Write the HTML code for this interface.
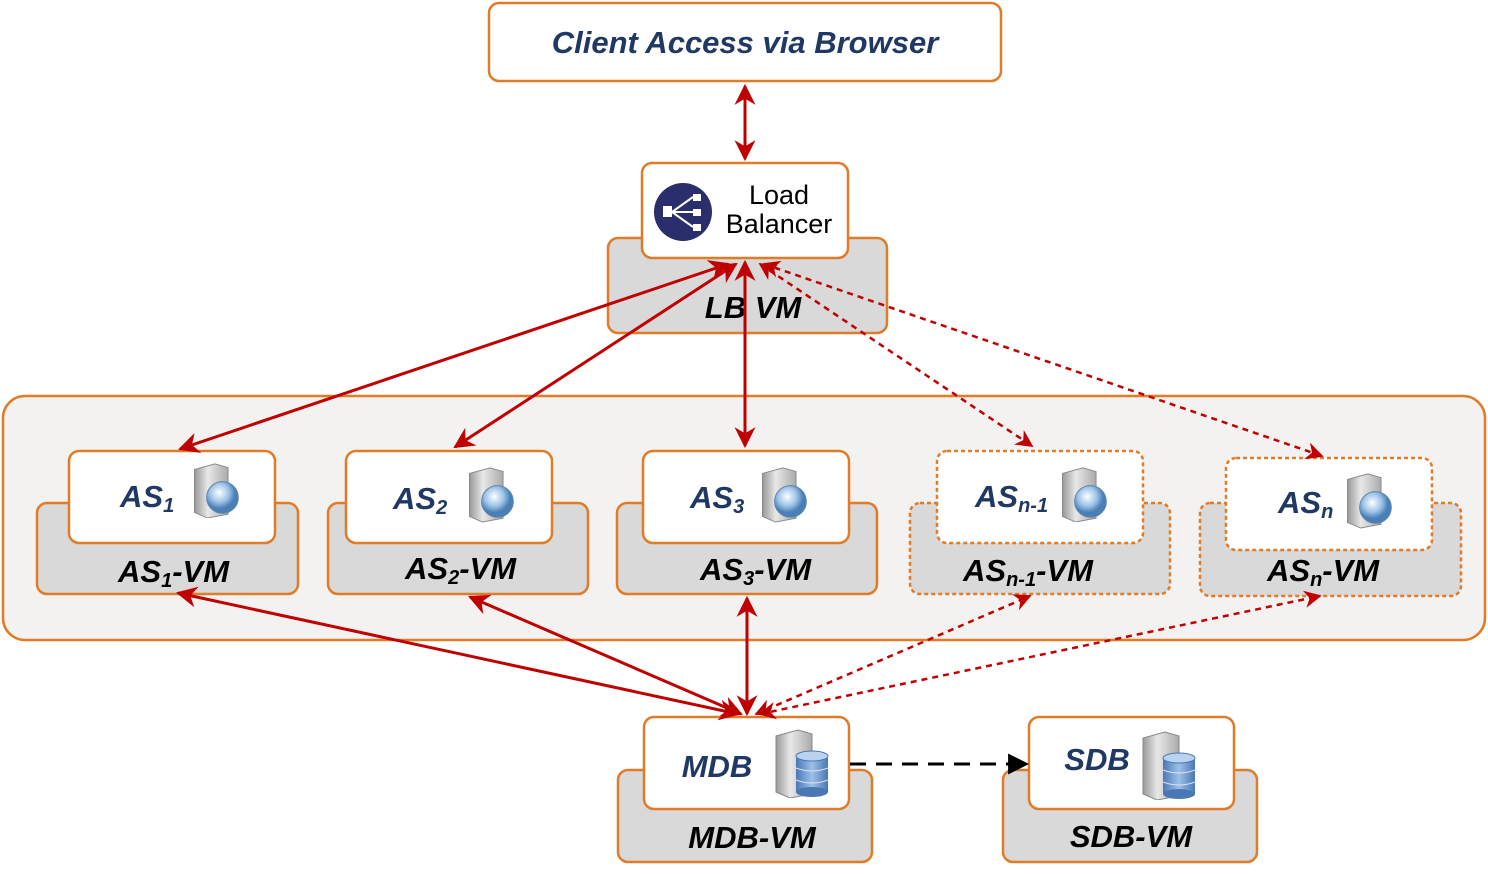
<!DOCTYPE html>
<html><head><meta charset="utf-8"><style>
html,body{margin:0;padding:0;background:#fff;}
svg{display:block;}
text{font-family:"Liberation Sans",sans-serif;font-weight:bold;font-style:italic;}
text.n{font-style:normal;font-weight:normal;}
</style></head><body>
<svg width="1488" height="878" viewBox="0 0 1488 878" xmlns="http://www.w3.org/2000/svg">
<defs>
<marker id="ar" viewBox="0 0 10 10" refX="9" refY="5" markerWidth="7" markerHeight="7" orient="auto-start-reverse"><path d="M0,0 L10,5 L0,10 L3,5 z" fill="#C00000"/></marker>
<marker id="ak" viewBox="0 0 10 10" refX="9" refY="5" markerWidth="7" markerHeight="7" orient="auto"><path d="M0,0 L10,5 L0,10 z" fill="#000"/></marker>
<linearGradient id="srv" x1="0" x2="1"><stop offset="0" stop-color="#999"/><stop offset=".4" stop-color="#e8e8e8"/><stop offset="1" stop-color="#aaa"/></linearGradient>
<radialGradient id="glb" cx=".4" cy=".35"><stop offset="0" stop-color="#fff"/><stop offset=".6" stop-color="#9cc3e8"/><stop offset="1" stop-color="#4a7fb5"/></radialGradient>
<linearGradient id="db" x1="0" x2="1"><stop offset="0" stop-color="#4a78b5"/><stop offset=".5" stop-color="#9cc0e8"/><stop offset="1" stop-color="#4a78b5"/></linearGradient>
<symbol id="web" viewBox="0 0 60 60"><path d="M8,8 L30,2 L44,6 L44,56 L22,60 L8,54 z" fill="url(#srv)" stroke="#888"/><circle cx="38" cy="38" r="17" fill="url(#glb)" stroke="#5d86b0"/></symbol>
<symbol id="dbs" viewBox="0 0 60 70"><path d="M6,8 L28,2 L42,6 L42,66 L20,70 L6,64 z" fill="url(#srv)" stroke="#888"/><rect x="26" y="28" width="32" height="36" fill="url(#db)"/><ellipse cx="42" cy="28" rx="16" ry="5" fill="#b9d3f0" stroke="#4a78b5"/><ellipse cx="42" cy="64" rx="16" ry="5" fill="#4a78b5"/><path d="M26,40 Q42,46 58,40 M26,52 Q42,58 58,52" stroke="#dde" fill="none"/></symbol>
</defs>

<rect x="489" y="3" width="512" height="78" rx="10" fill="#fff" stroke="#E07B28" stroke-width="2.5"/>
<text x="745" y="53" font-size="31" fill="#1F3864" text-anchor="middle">Client Access via Browser</text>
<line x1="745" y1="86" x2="745" y2="159" stroke="#C00000" stroke-width="3" marker-start="url(#ar)" marker-end="url(#ar)"/>

<rect x="608" y="238" width="279" height="95" rx="10" fill="#D9D9D9" stroke="#E07B28" stroke-width="2.5"/>
<rect x="642" y="163" width="206" height="95" rx="10" fill="#fff" stroke="#E07B28" stroke-width="2.5"/>
<circle cx="683" cy="212" r="29" fill="#2A2F6B"/>
<g fill="#fff" stroke="#fff" stroke-width="2"><rect x="663" y="206" width="9" height="11" stroke="none"/><rect x="693" y="194" width="8" height="7" stroke="none"/><rect x="693" y="209" width="8" height="7" stroke="none"/><rect x="693" y="224" width="8" height="7" stroke="none"/><path d="M672,212 L693,197 M672,212 L693,212 M672,212 L693,227" fill="none"/></g>
<text class="n" x="779" y="204" font-size="27" fill="#000" text-anchor="middle">Load</text>
<text class="n" x="779" y="233" font-size="27" fill="#000" text-anchor="middle">Balancer</text>
<text x="753" y="318" font-size="31" fill="#000" text-anchor="middle">LB VM</text>

<rect x="3" y="396" width="1482" height="244" rx="22" fill="#F4F2F0" stroke="#E07B28" stroke-width="2.5"/>

<g stroke="#E07B28" stroke-width="2.5">
<rect x="37" y="503" width="261" height="91" rx="10" fill="#D9D9D9"/>
<rect x="69" y="451" width="206" height="92" rx="10" fill="#fff"/>
<rect x="328" y="503" width="260" height="91" rx="10" fill="#D9D9D9"/>
<rect x="346" y="451" width="206" height="92" rx="10" fill="#fff"/>
<rect x="617" y="503" width="260" height="91" rx="10" fill="#D9D9D9"/>
<rect x="643" y="451" width="206" height="92" rx="10" fill="#fff"/>
<rect x="910" y="503" width="260" height="91" rx="10" fill="#D9D9D9" stroke-dasharray="4,3"/>
<rect x="937" y="451" width="206" height="92" rx="10" fill="#fff" stroke-dasharray="4,3"/>
<rect x="1200" y="503" width="261" height="93" rx="10" fill="#D9D9D9" stroke-dasharray="4,3"/>
<rect x="1226" y="458" width="206" height="92" rx="10" fill="#fff" stroke-dasharray="4,3"/>
</g>
<use href="#web" x="187" y="462" width="56" height="56"/>
<use href="#web" x="462" y="464" width="56" height="60"/>
<use href="#web" x="755" y="464" width="56" height="60"/>
<use href="#web" x="1055" y="466" width="56" height="56"/>
<use href="#web" x="1340" y="471" width="56" height="58"/>
<g fill="#1F3864" font-size="31">
<text x="120" y="507">AS<tspan font-size="20" dy="5">1</tspan></text>
<text x="393" y="509">AS<tspan font-size="20" dy="5">2</tspan></text>
<text x="690" y="508">AS<tspan font-size="20" dy="5">3</tspan></text>
<text x="975" y="507">AS<tspan font-size="20" dy="5">n-1</tspan></text>
<text x="1278" y="513">AS<tspan font-size="20" dy="5">n</tspan></text>
</g>
<g fill="#000" font-size="31">
<text x="118" y="582">AS<tspan font-size="20" dy="5">1</tspan><tspan dy="-5">-VM</tspan></text>
<text x="405" y="579">AS<tspan font-size="20" dy="5">2</tspan><tspan dy="-5">-VM</tspan></text>
<text x="700" y="580">AS<tspan font-size="20" dy="5">3</tspan><tspan dy="-5">-VM</tspan></text>
<text x="963" y="581">AS<tspan font-size="20" dy="5">n-1</tspan><tspan dy="-5">-VM</tspan></text>
<text x="1267" y="581">AS<tspan font-size="20" dy="5">n</tspan><tspan dy="-5">-VM</tspan></text>
</g>

<g stroke="#E07B28" stroke-width="2.5">
<rect x="618" y="770" width="254" height="92" rx="10" fill="#D9D9D9"/>
<rect x="644" y="717" width="205" height="92" rx="10" fill="#fff"/>
<rect x="1003" y="770" width="254" height="92" rx="10" fill="#D9D9D9"/>
<rect x="1029" y="717" width="205" height="92" rx="10" fill="#fff"/>
</g>
<use href="#dbs" x="770" y="728" width="60" height="70"/>
<use href="#dbs" x="1137" y="730" width="60" height="70"/>
<text x="717" y="777" font-size="31" fill="#1F3864" text-anchor="middle">MDB</text>
<text x="1097" y="770" font-size="31" fill="#1F3864" text-anchor="middle">SDB</text>
<text x="752" y="848" font-size="31" fill="#000" text-anchor="middle">MDB-VM</text>
<text x="1131" y="847" font-size="31" fill="#000" text-anchor="middle">SDB-VM</text>
<line x1="850" y1="764" x2="1027" y2="764" stroke="#000" stroke-width="3" stroke-dasharray="16,10" marker-end="url(#ak)"/>

<g stroke="#C00000" stroke-width="3" fill="none" marker-start="url(#ar)" marker-end="url(#ar)">
<line x1="728" y1="264" x2="180" y2="449"/>
<line x1="736" y1="264" x2="455" y2="447"/>
<line x1="745" y1="262" x2="745" y2="446"/>
<line x1="760" y1="264" x2="1032" y2="446" stroke-dasharray="6,5" stroke-width="2.5"/>
<line x1="764" y1="264" x2="1322" y2="456" stroke-dasharray="6,5" stroke-width="2.5"/>
<line x1="738" y1="714" x2="178" y2="593"/>
<line x1="741" y1="714" x2="470" y2="597"/>
<line x1="747" y1="714" x2="747" y2="598"/>
<line x1="756" y1="714" x2="1030" y2="596" stroke-dasharray="6,5" stroke-width="2.5"/>
<line x1="760" y1="714" x2="1320" y2="596" stroke-dasharray="6,5" stroke-width="2.5"/>
</g>
</svg>
</body></html>
